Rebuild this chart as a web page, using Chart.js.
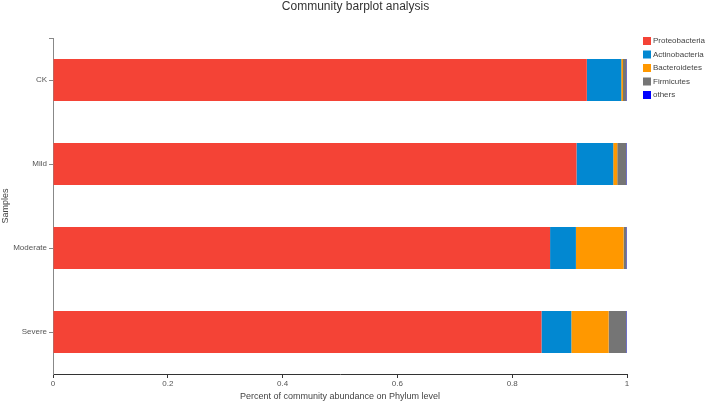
<!DOCTYPE html>
<html>
<head>
<meta charset="utf-8">
<title>Community barplot analysis</title>
<script src="https://cdn.jsdelivr.net/npm/chart.js@4.4.1/dist/chart.umd.min.js"></script>
<style>
    html, body { margin: 0; padding: 0; background: #fff; }
    #chart { display: block; }
</style>
</head>
<body>
<canvas id="chart" width="705" height="403"></canvas>
<script>
// Данные: доли филумов по образцам
const samples = ['CK', 'Mild', 'Moderate', 'Severe'];
const phyla = ['Proteobacteria', 'Actinobacteria', 'Bacteroidetes', 'Firmicutes', 'others'];
const proteobacteria = [0.930, 0.912, 0.866, 0.851];
const actinobacteria = [0.060, 0.064, 0.045, 0.052];
const bacteroidetes = [0.003, 0.007, 0.083, 0.065];
const firmicutes = [0.006, 0.016, 0.005, 0.031];
const others = [0.001, 0.001, 0.001, 0.001];
const xTicks = [0, 0.2, 0.4, 0.6, 0.8, 1];

const phylumColors = ['#F44336', '#0288D1', '#FF9800', '#757575', '#0000FF'];
const FONT = '"Liberation Sans", Arial, sans-serif';
const TITLE = 'Community barplot analysis';

const seriesValues = [proteobacteria, actinobacteria, bacteroidetes, firmicutes, others];

// Заголовок по центру холста и легенда справа, рисуем сами
const decorations = {
    id: 'decorations',
    afterDraw(chart) {
        const ctx = chart.ctx;
        ctx.save();
        ctx.font = '12px ' + FONT;
        ctx.fillStyle = '#333';
        ctx.textAlign = 'center';
        ctx.textBaseline = 'middle';
        ctx.fillText(TITLE, chart.width / 2 + 3, 7);

        ctx.font = '8px ' + FONT;
        ctx.textAlign = 'left';
        chart.data.datasets.forEach((ds, i) => {
            const y = 41 + i * 13.5;
            ctx.fillStyle = ds.backgroundColor;
            ctx.fillRect(643, y - 4, 8, 8);
            ctx.fillStyle = '#444';
            ctx.fillText(ds.label, 653, y);
        });

        // верхний концевой штрих оси Y
        const area = chart.chartArea;
        ctx.strokeStyle = '#888';
        ctx.lineWidth = 1;
        ctx.beginPath();
        ctx.moveTo(area.left - 4, area.top + 0.5);
        ctx.lineTo(area.left, area.top + 0.5);
        ctx.stroke();
        ctx.restore();
    }
};

const ctx = document.getElementById('chart');
new Chart(ctx, {
    type: 'bar',
    data: {
        labels: samples,
        datasets: phyla.map((name, i) => ({
            label: name,
            data: seriesValues[i],
            backgroundColor: phylumColors[i],
            borderWidth: 0,
            categoryPercentage: 1,
            barPercentage: 0.5
        }))
    },
    options: {
        indexAxis: 'y',
        responsive: false,
        animation: false,
        layout: { padding: { left: 0, right: 78, top: 38, bottom: 0 } },
        plugins: {
            legend: { display: false },
            tooltip: { enabled: false },
            title: { display: false }
        },
        scales: {
            x: {
                stacked: true,
                min: 0,
                max: 1,
                afterBuildTicks: scale => {
                    scale.ticks = xTicks.map(v => ({ value: v }));
                },
                afterFit: scale => { scale.height = 29; },
                border: { display: true, color: '#333', width: 1 },
                grid: { display: true, drawOnChartArea: false, drawTicks: true, tickLength: 4, color: '#333' },
                ticks: {
                    color: '#555',
                    padding: 1,
                    maxRotation: 0,
                    font: { family: FONT, size: 8 },
                    callback: v => String(v)
                },
                title: {
                    display: true,
                    text: 'Percent of community abundance on Phylum level',
                    color: '#444',
                    font: { family: FONT, size: 9 },
                    padding: { top: 0, bottom: 1 }
                }
            },
            y: {
                stacked: true,
                afterFit: scale => { scale.width = 53; },
                border: { display: true, color: '#888', width: 1 },
                grid: { display: true, offset: false, drawOnChartArea: false, drawTicks: true, tickLength: 4, color: '#888' },
                ticks: {
                    color: '#555',
                    padding: 2,
                    font: { family: FONT, size: 8 }
                },
                title: {
                    display: true,
                    text: 'Samples',
                    color: '#444',
                    font: { family: FONT, size: 9 },
                    padding: { top: 0, bottom: 0 }
                }
            }
        }
    },
    plugins: [decorations]
});
</script>
</body>
</html>
